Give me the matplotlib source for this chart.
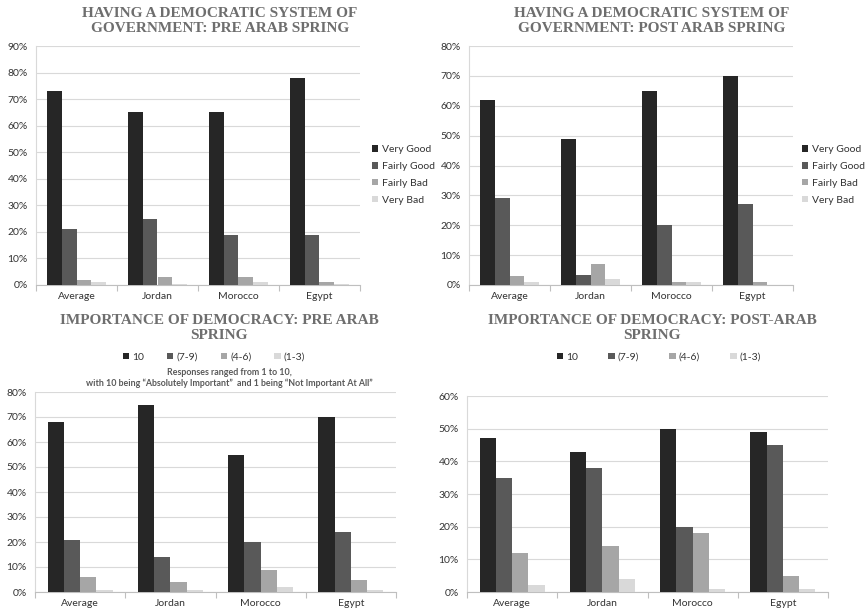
import numpy as np
import matplotlib.pyplot as plt
from matplotlib.patches import Patch
from matplotlib.ticker import FuncFormatter, FixedLocator

W, H = 865, 615

countries = ["Average", "Jordan", "Morocco", "Egypt"]

# Having a democratic system of government
system_labels = ["Very Good", "Fairly Good", "Fairly Bad", "Very Bad"]
system_pre = [
    [73, 65, 65, 78],
    [21, 25, 19, 19],
    [2, 3, 3, 1],
    [1, 0.5, 1, 0.4],
]
system_post = [
    [62, 49, 65, 70],
    [29, 3.5, 20, 27],
    [3, 7, 1, 1],
    [1, 2, 1, 0],
]

# Importance of democracy (1-10 scale, grouped)
importance_labels = ["10", "(7-9)", "(4-6)", "(1-3)"]
importance_pre = [
    [68, 75, 55, 70],
    [21, 14, 20, 24],
    [6, 4, 9, 5],
    [1, 1, 2, 1],
]
importance_post = [
    [47, 43, 50, 49],
    [35, 38, 20, 45],
    [12, 14, 18, 5],
    [2, 4, 1, 1],
]

colors = ["#262626", "#595959", "#a6a6a6", "#d9d9d9"]
text_grey = "#595959"
title_grey = "#6e6e6e"
SANS = ["Lato", "DejaVu Sans"]
SERIF = ["Liberation Serif", "DejaVu Serif"]


def px_axes(fig, left, top, right, bottom):
    return fig.add_axes([left / W, 1 - bottom / H, (right - left) / W, (bottom - top) / H])


def bar_panel(ax, series, ymax):
    n = len(series)
    x = np.arange(len(countries))
    bw = 0.18
    for i, vals in enumerate(series):
        ax.bar(x + (i - (n - 1) / 2) * bw, vals, width=bw, color=colors[i],
               edgecolor="none", zorder=3)
    ax.set_xlim(-0.5, len(countries) - 0.5)
    ax.set_ylim(0, ymax)
    ax.yaxis.set_major_locator(FixedLocator(np.arange(0, ymax + 1, 10)))
    ax.yaxis.set_major_formatter(FuncFormatter(lambda v, _: f"{v:.0f}%"))
    ax.grid(axis="y", color="#d9d9d9", linewidth=0.8, zorder=0)
    ax.set_xticks(x)
    ax.set_xticklabels(countries, family=SANS, fontsize=7.5, color="#333333")
    ax.xaxis.set_minor_locator(FixedLocator(np.arange(-0.5, len(countries), 1.0)))
    ax.tick_params(axis="x", which="major", length=0, pad=5)
    ax.tick_params(axis="x", which="minor", length=4, color="#bfbfbf", width=0.8)
    ax.tick_params(axis="y", length=0, pad=6, labelsize=7.5, labelcolor="#333333")
    for lab in ax.get_yticklabels():
        lab.set_family(SANS)
    for s in ["top", "right"]:
        ax.spines[s].set_visible(False)
    ax.spines["left"].set_color("#d9d9d9")
    ax.spines["bottom"].set_color("#bfbfbf")
    ax.spines["left"].set_linewidth(0.8)
    ax.spines["bottom"].set_linewidth(0.8)


def title(fig, x, y, lines, size=11):
    fig.text(x / W, 1 - y / H, lines, ha="center", va="center", family=SERIF,
             fontweight="bold", fontsize=size, color=title_grey, linespacing=1.25)


def handles(labels):
    return [Patch(facecolor=c, edgecolor="none", label=l) for c, l in zip(colors, labels)]


legend_kw = dict(frameon=False, prop={"family": SANS, "size": 7.5}, handlelength=0.6,
                 handleheight=0.6, handletextpad=0.3, labelcolor="#333333", borderaxespad=0)

fig = plt.figure(figsize=(W / 100, H / 100), dpi=100)

# top left
ax1 = px_axes(fig, 36, 46, 360, 285)
bar_panel(ax1, system_pre, 90)
title(fig, 220, 21, "HAVING A DEMOCRATIC SYSTEM OF\nGOVERNMENT: PRE ARAB SPRING")
fig.legend(handles=handles(system_labels), loc="upper left",
           bbox_to_anchor=(368 / W, 1 - 141 / H), labelspacing=0.75, **legend_kw)

# top right
ax2 = px_axes(fig, 469, 46, 793, 285)
bar_panel(ax2, system_post, 80)
title(fig, 652, 21, "HAVING A DEMOCRATIC SYSTEM OF\nGOVERNMENT: POST ARAB SPRING")
fig.legend(handles=handles(system_labels), loc="upper left",
           bbox_to_anchor=(798 / W, 1 - 141 / H), labelspacing=0.75, **legend_kw)

# bottom left
ax3 = px_axes(fig, 35, 392, 396, 592)
bar_panel(ax3, importance_pre, 80)
title(fig, 219, 328, "IMPORTANCE OF DEMOCRACY: PRE ARAB\nSPRING")
fig.legend(handles=handles(importance_labels), loc="center",
           bbox_to_anchor=(214 / W, 1 - 357 / H), ncol=4, columnspacing=2.2, **legend_kw)
fig.text(229 / W, 1 - 378 / H,
         "Responses ranged from 1 to 10,\n"
         "with 10 being \u201cAbsolutely Important\u201d  and 1 being \u201cNot Important At All\u201d",
         ha="center", va="center", family=SANS, fontsize=6.4, fontweight="bold",
         color=text_grey, linespacing=1.2)

# bottom right
ax4 = px_axes(fig, 467, 396, 828, 592)
bar_panel(ax4, importance_post, 60)
title(fig, 652, 328, "IMPORTANCE OF DEMOCRACY: POST-ARAB\nSPRING")
fig.legend(handles=handles(importance_labels), loc="center",
           bbox_to_anchor=(659 / W, 1 - 357 / H), ncol=4, columnspacing=2.9, **legend_kw)

fig.savefig("out.png", dpi=100)
